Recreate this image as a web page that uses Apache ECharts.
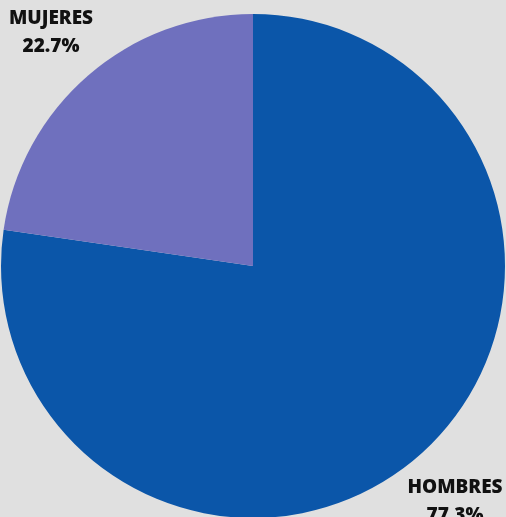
<!DOCTYPE html>
<html>
<head>
<meta charset="utf-8">
<script src="https://cdn.jsdelivr.net/npm/echarts@6/dist/echarts.min.js"></script>
<style>
html,body{margin:0;padding:0;background:#e0e0e0;}
#c{width:506px;height:517px;}
</style>
</head>
<body>
<div id="c"></div>
<script>
const categories = ['HOMBRES', 'MUJERES'];
const values = [77.3, 22.7];
const colors = ['#0b56a9', '#6f70be'];
const labelPos = [[455, 502], [51, 33]];

const chart = echarts.init(document.getElementById('c'), null, {renderer: 'canvas'});
chart.setOption({
  backgroundColor: '#e0e0e0',
  animation: false,
  series: [{
    type: 'pie',
    center: [253, 266],
    radius: 252,
    startAngle: 90,
    clockwise: true,
    data: categories.map((n, i) => ({name: n, value: values[i], itemStyle: {color: colors[i]}})),
    label: {
      show: true,
      position: 'outside',
      overflow: 'none',
      width: 200,
      formatter: p => p.name + '\n' + p.value.toFixed(1) + '%',
      fontFamily: 'Open Sans',
      fontWeight: 800,
      fontSize: 19,
      lineHeight: 28,
      color: '#111',
      align: 'center'
    },
    labelLine: {show: false},
    labelLayout: p => ({x: labelPos[p.dataIndex][0], y: labelPos[p.dataIndex][1], align: 'center', verticalAlign: 'middle'})
  }]
});
</script>
</body>
</html>
